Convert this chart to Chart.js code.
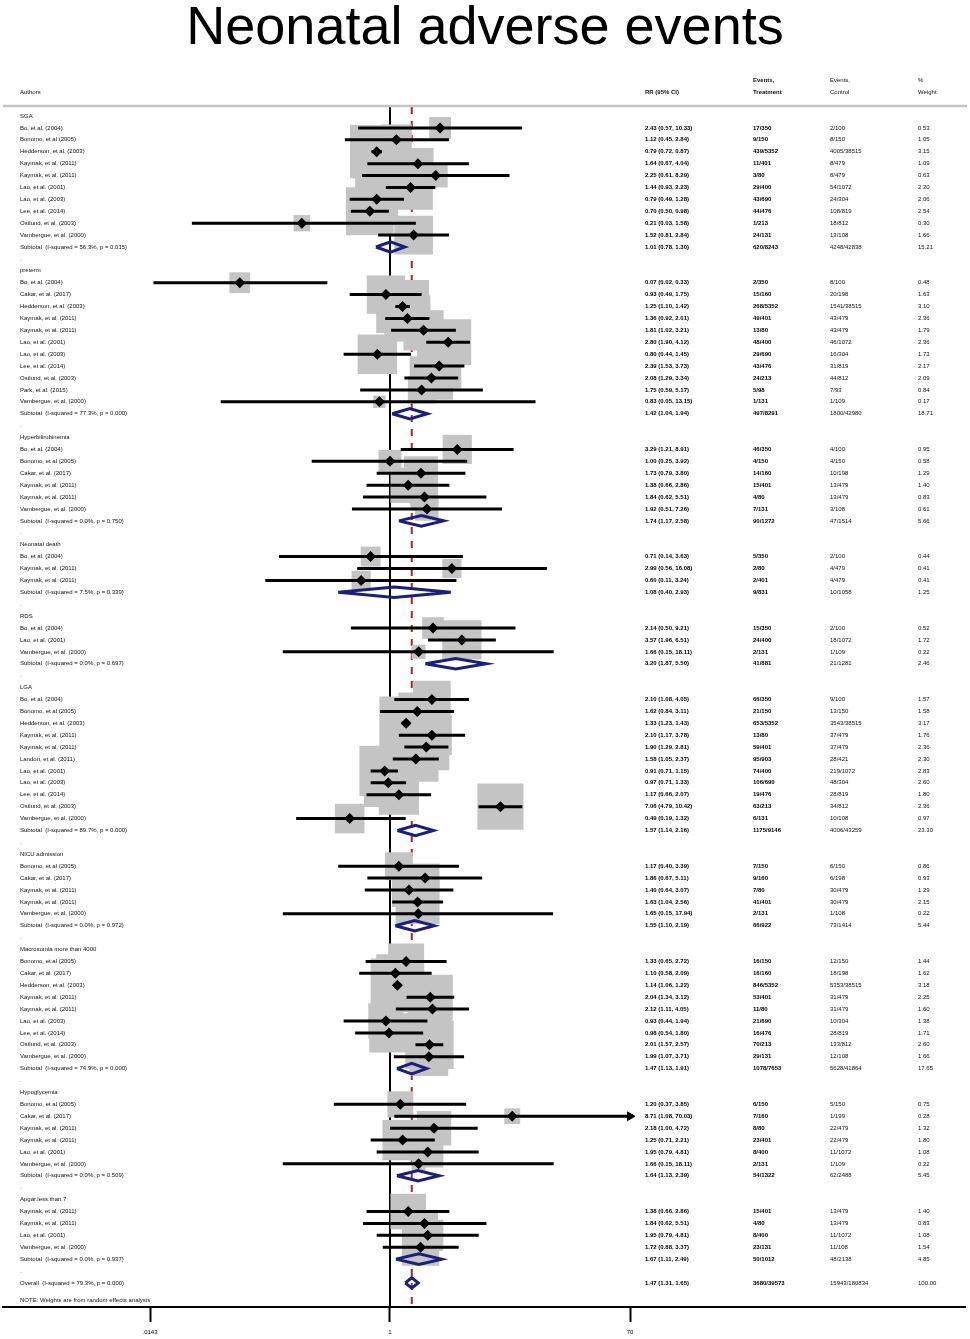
<!DOCTYPE html>
<html>
<head>
<meta charset="utf-8">
<script src="https://cdn.jsdelivr.net/npm/chart.js@4.4.1/dist/chart.umd.min.js"></script>
<style>
html,body{margin:0;padding:0;background:#fff;}
#c{display:block;}
</style>
</head>
<body>
<canvas id="c" width="970" height="1339" style="width:970px;height:1339px;"></canvas>
<script>
// ---------------- DATA ----------------
const chartTitle = 'Neonatal adverse events';
const groups = ['SGA','preterm','Hyperbilirubinemia','Neonatal death','RDS','LGA','NICU admission','Macrosomia more than 4000','Hypoglycemia','Apgar.less.than.7'];
const groupSizes = [10,11,6,3,3,11,5,9,6,4];

const studies = [
  // SGA
  'Bo, et al. (2004)','Bonomo, et al (2005)','Hedderson, et al. (2003)','Kaymak, et al. (2011)','Kaymak, et al. (2011)','Lao, et al. (2001)','Lao, et al. (2003)','Lee, et al. (2014)','Ostlund, et al. (2003)','Vambergue, et al. (2000)',
  // preterm
  'Bo, et al. (2004)','Cakar, et al. (2017)','Hedderson, et al. (2003)','Kaymak, et al. (2011)','Kaymak, et al. (2011)','Lao, et al. (2001)','Lao, et al. (2003)','Lee, et al. (2014)','Ostlund, et al. (2003)','Park, et al. (2015)','Vambergue, et al. (2000)',
  // Hyperbilirubinemia
  'Bo, et al. (2004)','Bonomo, et al (2005)','Cakar, et al. (2017)','Kaymak, et al. (2011)','Kaymak, et al. (2011)','Vambergue, et al. (2000)',
  // Neonatal death
  'Bo, et al. (2004)','Kaymak, et al. (2011)','Kaymak, et al. (2011)',
  // RDS
  'Bo, et al. (2004)','Lao, et al. (2001)','Vambergue, et al. (2000)',
  // LGA
  'Bo, et al. (2004)','Bonomo, et al (2005)','Hedderson, et al. (2003)','Kaymak, et al. (2011)','Kaymak, et al. (2011)','Landon, et al. (2011)','Lao, et al. (2001)','Lao, et al. (2003)','Lee, et al. (2014)','Ostlund, et al. (2003)','Vambergue, et al. (2000)',
  // NICU admission
  'Bonomo, et al (2005)','Cakar, et al. (2017)','Kaymak, et al. (2011)','Kaymak, et al. (2011)','Vambergue, et al. (2000)',
  // Macrosomia
  'Bonomo, et al (2005)','Cakar, et al. (2017)','Hedderson, et al. (2003)','Kaymak, et al. (2011)','Kaymak, et al. (2011)','Lao, et al. (2003)','Lee, et al. (2014)','Ostlund, et al. (2003)','Vambergue, et al. (2000)',
  // Hypoglycemia
  'Bonomo, et al (2005)','Cakar, et al. (2017)','Kaymak, et al. (2011)','Kaymak, et al. (2011)','Lao, et al. (2001)','Vambergue, et al. (2000)',
  // Apgar
  'Kaymak, et al. (2011)','Kaymak, et al. (2011)','Lao, et al. (2001)','Vambergue, et al. (2000)'
];
const rr = [
  2.43,1.12,0.79,1.64,2.25,1.44,0.79,0.70,0.21,1.52,
  0.07,0.93,1.25,1.36,1.81,2.80,0.80,2.39,2.08,1.75,0.83,
  3.29,1.00,1.73,1.38,1.84,1.92,
  0.71,2.99,0.60,
  2.14,3.57,1.66,
  2.10,1.62,1.33,2.10,1.90,1.58,0.91,0.97,1.17,7.06,0.49,
  1.17,1.86,1.40,1.63,1.65,
  1.33,1.10,1.14,2.04,2.12,0.93,0.98,2.01,1.99,
  1.20,8.71,2.18,1.25,1.95,1.66,
  1.38,1.84,1.95,1.72
];
const lo = [
  0.57,0.45,0.72,0.67,0.61,0.93,0.49,0.50,0.03,0.81,
  0.0152,0.49,1.10,0.92,1.02,1.90,0.44,1.53,1.29,0.59,0.05,
  1.21,0.25,0.79,0.66,0.62,0.51,
  0.14,0.56,0.11,
  0.50,1.96,0.15,
  1.08,0.84,1.23,1.17,1.29,1.05,0.71,0.71,0.66,4.79,0.19,
  0.40,0.67,0.64,1.04,0.15,
  0.65,0.58,1.06,1.34,1.11,0.44,0.54,1.57,1.07,
  0.37,1.08,1.00,0.71,0.79,0.15,
  0.66,0.62,0.79,0.88
];
const hi = [
  10.33,2.84,0.87,4.04,8.29,2.23,1.28,0.98,1.58,2.84,
  0.33,1.75,1.42,2.01,3.21,4.12,1.45,3.73,3.34,5.17,13.15,
  8.91,3.92,3.80,2.86,5.51,7.26,
  3.63,16.08,3.24,
  9.21,6.51,18.11,
  4.05,3.11,1.43,3.78,2.81,2.37,1.15,1.33,2.07,10.42,1.32,
  3.39,5.11,3.07,2.56,17.94,
  2.72,2.09,1.22,3.12,4.05,1.94,1.80,2.57,3.71,
  3.85,70.03,4.72,2.21,4.81,18.11,
  2.86,5.51,4.81,3.37
];
const evTreat = [
  '17/350','9/150','439/5352','11/401','3/80','29/400','43/690','44/476','1/213','24/131',
  '2/350','15/160','268/5352','49/401','13/80','48/400','29/690','43/476','24/213','5/98','1/131',
  '46/350','4/150','14/160','15/401','4/80','7/131',
  '5/350','2/80','2/401',
  '15/350','24/400','2/131',
  '66/350','21/150','653/5352','13/80','59/401','95/903','74/400','106/690','19/476','63/213','6/131',
  '7/150','9/160','7/80','41/401','2/131',
  '16/150','16/160','846/5352','53/401','11/80','21/690','16/476','70/213','29/131',
  '6/150','7/160','8/80','23/401','8/400','2/131',
  '15/401','4/80','8/400','23/131'
];
const evCtrl = [
  '2/100','8/150','4005/38515','8/479','8/479','54/1072','24/304','108/819','18/812','13/108',
  '8/100','20/198','1541/38515','43/479','43/479','46/1072','16/304','31/819','44/812','7/93','1/109',
  '4/100','4/150','10/198','13/479','13/479','3/108',
  '2/100','4/479','4/479',
  '2/100','18/1072','1/109',
  '9/100','13/150','3543/38515','37/479','37/479','28/421','219/1072','48/304','28/819','34/812','10/108',
  '6/150','6/198','30/479','30/479','1/108',
  '12/150','18/198','5353/38515','31/479','31/479','10/304','28/819','133/812','12/108',
  '5/150','1/199','22/479','22/479','11/1072','1/109',
  '13/479','13/479','11/1072','11/108'
];
const weight = [
  0.53,1.05,3.15,1.09,0.63,2.20,2.06,2.54,0.30,1.66,
  0.48,1.63,3.10,2.36,1.79,2.36,1.73,2.17,2.09,0.84,0.17,
  0.95,0.58,1.29,1.40,0.83,0.61,
  0.44,0.41,0.41,
  0.52,1.72,0.22,
  1.57,1.58,3.17,1.76,2.36,2.30,2.83,2.60,1.80,2.36,0.97,
  0.86,0.93,1.29,2.15,0.22,
  1.44,1.62,3.18,2.25,1.60,1.38,1.71,2.60,1.66,
  0.75,0.28,1.32,1.80,1.08,0.22,
  1.40,0.83,1.08,1.54
];
// subtotals per group
const subRR   = [1.01,1.42,1.74,1.08,3.20,1.57,1.55,1.47,1.64,1.67];
const subLo   = [0.78,1.04,1.17,0.40,1.87,1.14,1.10,1.13,1.13,1.11];
const subHi   = [1.30,1.94,2.58,2.93,5.50,2.16,2.19,1.91,2.39,2.49];
const subEvT  = ['620/8243','497/8291','90/1272','9/831','41/881','1175/9146','66/922','1078/7653','54/1322','50/1012'];
const subEvC  = ['4248/42838','1800/42980','47/1514','10/1058','21/1281','4006/43259','73/1414','5628/41864','62/2488','48/2138'];
const subWt   = [15.21,18.71,5.66,1.25,2.46,23.30,5.44,17.65,5.45,4.85];
const subI2   = [56.3,77.3,0.0,7.5,0.0,89.7,0.0,74.9,0.0,0.0];
const subP    = [0.015,0.000,0.750,0.339,0.697,0.000,0.972,0.000,0.509,0.937];
// overall
const overallRR = 1.47, overallLo = 1.31, overallHi = 1.65;
const overallEvT = '3680/39573', overallEvC = '15943/180834', overallWt = 100.00;
const overallI2 = 79.3, overallP = 0.000;
const noteText = 'NOTE: Weights are from random effects analysis';
// axis
const xTicks = [0.0143, 1, 70];
const xTickLabels = ['.0143', '1', '70'];

// ---------------- LAYOUT OF ROWS ----------------
const studyRow = [], subRow = [], headRow = [], dotRow = [];
let r = 0, si = 0;
groups.forEach((g, gi) => {
  headRow.push(r++);
  for (let k = 0; k < groupSizes[gi]; k++) studyRow[si++] = r++;
  subRow.push(r++);
  dotRow.push(r++);
});
const overallRow = r;
const noteRow = overallRow + 1.5;

const X_MIN = 0.00106, X_MAX = 26300;
const Y_MIN = -0.756, Y_MAX = 100.02;
const axMax = xTicks[xTicks.length - 1];

const f2 = v => v.toFixed(2);
const ciText = (a, b, c) => f2(a) + ' (' + f2(b) + ', ' + f2(c) + ')';

// ---------------- DATASETS ----------------
const ciData = [];
const arrowData = [];
studies.forEach((s, i) => {
  const h = Math.min(hi[i], axMax);
  ciData.push({x: lo[i], y: studyRow[i]}, {x: h, y: studyRow[i]}, {x: null, y: null});
  if (hi[i] > axMax) arrowData.push({x: axMax, y: studyRow[i]});
});
const DH = 0.44;
const diamondPts = (m, a, b, y) => [
  {x: a, y: y}, {x: m, y: y - DH}, {x: b, y: y}, {x: m, y: y + DH}, {x: a, y: y}, {x: null, y: null}
];
let subData = [];
groups.forEach((g, gi) => { subData = subData.concat(diamondPts(subRR[gi], subLo[gi], subHi[gi], subRow[gi])); });
const overallData = diamondPts(overallRR, overallLo, overallHi, overallRow);

const NAVY = '#1a1f7c';
const MAROON = '#a3282b';

const datasets = [
  { type: 'line', data: [{x: 1, y: Y_MIN}, {x: 1, y: Y_MAX}], borderColor: '#000', borderWidth: 2, pointRadius: 0, order: 10 },
  { type: 'line', data: [{x: overallRR, y: Y_MIN}, {x: overallRR, y: Y_MAX}], borderColor: MAROON, borderWidth: 2, borderDash: [7, 7], pointRadius: 0, order: 9 },
  { type: 'scatter', data: studies.map((s, i) => ({x: rr[i], y: studyRow[i]})), pointStyle: 'rect',
    pointRadius: weight.map(w => Math.sqrt(w) * 30 / Math.SQRT2), backgroundColor: '#c4c4c4', borderWidth: 0, order: 8 },
  { type: 'line', data: ciData, borderColor: '#000', borderWidth: 3, pointRadius: 0, spanGaps: false, borderCapStyle: 'butt', order: 5 },
  { type: 'scatter', data: arrowData, pointStyle: 'triangle', rotation: 90, pointRadius: 5, backgroundColor: '#000', borderColor: '#000', borderWidth: 1, order: 4 },
  { type: 'scatter', data: studies.map((s, i) => ({x: rr[i], y: studyRow[i]})), pointStyle: 'rectRot', pointRadius: 5.5, backgroundColor: '#000', borderWidth: 0, order: 3 },
  { type: 'line', data: subData, borderColor: NAVY, borderWidth: 3, pointRadius: 0, spanGaps: false, borderJoinStyle: 'miter', order: 2 },
  { type: 'line', data: overallData, borderColor: NAVY, borderWidth: 3, pointRadius: 0, spanGaps: false, borderJoinStyle: 'miter', order: 1 }
];

// ---------------- TEXT PLUGIN ----------------
const FONT = '"Liberation Sans", Arial, Helvetica, sans-serif';
const COL = {name: 20, rr: 645, evT: 753, evC: 830, wt: 918};
const textPlugin = {
  id: 'forestText',
  afterDraw(chart) {
    const ctx = chart.ctx, ys = chart.scales.y, area = chart.chartArea;
    ctx.save();
    // title
    ctx.fillStyle = '#000';
    ctx.textAlign = 'center';
    ctx.textBaseline = 'alphabetic';
    ctx.font = '54px ' + FONT;
    ctx.fillText(chartTitle, 485, 44);
    // header line
    ctx.strokeStyle = '#c4c4c4';
    ctx.lineWidth = 2.5;
    ctx.beginPath(); ctx.moveTo(3, area.top - 1); ctx.lineTo(967, area.top - 1); ctx.stroke();
    // column headers
    ctx.textAlign = 'left';
    ctx.textBaseline = 'middle';
    const norm = '6px ' + FONT, bold = 'bold 6px ' + FONT;
    const put = (t, x, y, f, c) => { ctx.font = f || norm; ctx.fillStyle = c || '#111'; ctx.fillText(t, x, y); };
    put('Authors', COL.name, 92);
    put('RR (95% CI)', COL.rr, 92, bold);
    put('Events,', COL.evT, 80, bold); put('Treatment', COL.evT, 92, bold);
    put('Events,', COL.evC, 80); put('Control', COL.evC, 92);
    put('%', COL.wt, 80); put('Weight', COL.wt, 92);
    const py = v => ys.getPixelForValue(v);
    groups.forEach((g, gi) => {
      put(g, COL.name, py(headRow[gi]));
      put('Subtotal  (I-squared = ' + subI2[gi].toFixed(1) + '%, p = ' + subP[gi].toFixed(3) + ')', COL.name, py(subRow[gi]));
      const y = py(subRow[gi]);
      put(ciText(subRR[gi], subLo[gi], subHi[gi]), COL.rr, y, bold, '#000');
      put(subEvT[gi], COL.evT, y, bold, '#000');
      put(subEvC[gi], COL.evC, y);
      put(f2(subWt[gi]), COL.wt, y);
      put('.', COL.name, py(dotRow[gi]));
    });
    studies.forEach((s, i) => {
      const y = py(studyRow[i]);
      put(s, COL.name, y);
      put(ciText(rr[i], lo[i], hi[i]), COL.rr, y, bold, '#000');
      put(evTreat[i], COL.evT, y, bold, '#000');
      put(evCtrl[i], COL.evC, y);
      put(f2(weight[i]), COL.wt, y);
    });
    const oy = py(overallRow);
    put('Overall  (I-squared = ' + overallI2.toFixed(1) + '%, p = ' + overallP.toFixed(3) + ')', COL.name, oy);
    put(ciText(overallRR, overallLo, overallHi), COL.rr, oy, bold, '#000');
    put(overallEvT, COL.evT, oy, bold, '#000');
    put(overallEvC, COL.evC, oy);
    put(f2(overallWt), COL.wt, oy);
    put(noteText, COL.name, py(noteRow));
    ctx.restore();
  }
};

new Chart(document.getElementById('c'), {
  type: 'scatter',
  data: { datasets },
  options: {
    responsive: false,
    animation: false,
    devicePixelRatio: 1,
    layout: { autoPadding: false, padding: { top: 107, left: 3, right: 5, bottom: 0 } },
    plugins: { legend: { display: false }, tooltip: { enabled: false }, title: { display: false } },
    scales: {
      x: {
        type: 'logarithmic',
        min: X_MIN, max: X_MAX,
        bounds: 'data',
        position: 'bottom',
        afterBuildTicks: s => { s.ticks = xTicks.map(v => ({ value: v })); },
        afterFit: s => { s.height = 32; },
        ticks: {
          autoSkip: false, maxRotation: 0, minRotation: 0, padding: 7,
          color: '#000', font: { size: 6, family: FONT },
          callback: (v, i) => xTickLabels[i]
        },
        grid: { display: true, drawOnChartArea: false, drawTicks: true, tickLength: 15, tickWidth: 2, tickColor: '#000' },
        border: { display: true, color: '#000', width: 2 }
      },
      y: {
        type: 'linear', min: Y_MIN, max: Y_MAX, reverse: true, display: false, bounds: 'data'
      }
    }
  },
  plugins: [textPlugin]
});
</script>
</body>
</html>
